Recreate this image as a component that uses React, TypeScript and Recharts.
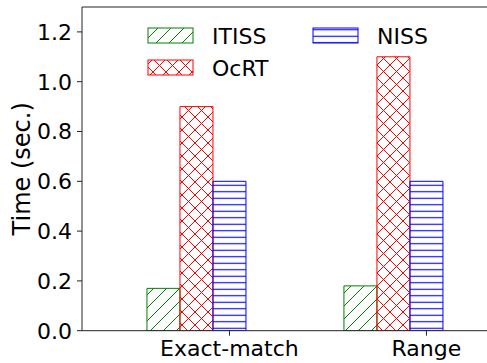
import React from 'react';
import { BarChart, Bar, XAxis, YAxis, ReferenceLine, Label } from 'recharts';

// Query time per method, one value per query type
const categories = ['Exact-match', 'Range'];
const itissTimes = [0.17, 0.18];
const ocrtTimes = [0.9, 1.1];
const nissTimes = [0.6, 0.6];
const yTicks = [0, 0.2, 0.4, 0.6, 0.8, 1.0, 1.2];

const series = [
  { key: 'ITISS', values: itissTimes, color: 'green', pattern: 'hatch-diag' },
  { key: 'OcRT', values: ocrtTimes, color: 'red', pattern: 'hatch-cross' },
  { key: 'NISS', values: nissTimes, color: 'blue', pattern: 'hatch-horiz' },
];

// x axis: one unit per query type; a bar is BAR_W units wide
const BAR_W = 0.1675;
const X_DOMAIN: [number, number] = [-0.581, 1.541];
const xTicks = categories.map((_, i) => i + BAR_W);

const data = categories.map((name, i) => {
  const row: Record<string, number | string> = { x: i, name };
  series.forEach((s) => {
    row[s.key] = s.values[i];
  });
  return row;
});

const FONT = '"DejaVu Sans", sans-serif';
const AXIS = '#222';

const HatchDefs = ({ prefix = '' }: { prefix?: string }) => (
  <defs>
    <pattern id={`${prefix}hatch-diag`} patternUnits="userSpaceOnUse" width={13} height={13}>
      <path d="M-1,1 l2,-2 M0,13 l13,-13 M12,14 l2,-2" stroke="green" strokeWidth={1} />
    </pattern>
    <pattern id={`${prefix}hatch-cross`} patternUnits="userSpaceOnUse" width={13} height={13}>
      <path
        d="M-1,1 l2,-2 M0,13 l13,-13 M12,14 l2,-2 M-1,12 l2,2 M0,0 l13,13 M12,-1 l2,2"
        stroke="red"
        strokeWidth={1}
      />
    </pattern>
    <pattern id={`${prefix}hatch-horiz`} patternUnits="userSpaceOnUse" width={13} height={6.5}>
      <path d="M0,3.25 h13" stroke="blue" strokeWidth={1.1} />
    </pattern>
  </defs>
);

const LegendBox = () => (
  <svg width={320} height={72} style={{ position: 'absolute', left: 140, top: 20 }}>
    <HatchDefs prefix="lg-" />
    {series.map((s, i) => {
      const col = Math.floor(i / 2);
      const row = i % 2;
      const sx = 8 + col * 165;
      const sy = 8 + row * 32;
      return (
        <g key={s.key}>
          <rect x={sx} y={sy} width={45} height={15} fill={`url(#lg-${s.pattern})`} stroke={s.color} strokeWidth={1} />
          <text x={sx + 64} y={sy + 16} fontSize={22} fontFamily={FONT} fill="#000">
            {s.key}
          </text>
        </g>
      );
    })}
  </svg>
);

const YTitle = (props: any) => {
  const { x, y, height } = props.viewBox;
  const cx = x + 30;
  const cy = y + height / 2;
  return (
    <text
      x={cx}
      y={cy}
      transform={`rotate(-90 ${cx} ${cy})`}
      textAnchor="middle"
      fontSize={24}
      fontFamily={FONT}
      fill="#000"
    >
      Time (sec.)
    </text>
  );
};

export default function App() {
  return (
    <div
      style={{
        position: 'absolute',
        left: 0,
        top: 0,
        width: 487,
        height: 363,
        overflow: 'hidden',
        background: '#fff',
      }}
    >
      <BarChart
        width={500}
        height={363}
        data={data}
        margin={{ top: 7, right: 0, bottom: 0, left: 0 }}
        barGap={0}
        barSize={33}
      >
        <HatchDefs />
        <XAxis
          type="number"
          dataKey="x"
          domain={X_DOMAIN}
          allowDataOverflow
          ticks={xTicks}
          tickCount={2}
          interval={0}
          tickFormatter={(v: number) => categories[Math.round(v - BAR_W)]}
          height={32.3}
          tickSize={5}
          tickMargin={4.5}
          axisLine={{ stroke: AXIS, strokeWidth: 1 }}
          tickLine={{ stroke: AXIS, strokeWidth: 1 }}
          tick={{ fill: '#000', fontSize: 22, fontFamily: FONT }}
        />
        <YAxis
          type="number"
          domain={[0, 1.3]}
          allowDataOverflow
          ticks={yTicks}
          interval={0}
          tickFormatter={(v: number) => v.toFixed(1)}
          width={82}
          tickSize={5}
          tickMargin={5}
          axisLine={{ stroke: AXIS, strokeWidth: 1 }}
          tickLine={{ stroke: AXIS, strokeWidth: 1 }}
          tick={{ fill: '#000', fontSize: 22, fontFamily: FONT }}
        >
          <Label content={YTitle} />
        </YAxis>
        <ReferenceLine y={1.3} stroke={AXIS} strokeWidth={1} />
        {series.map((s) => (
          <Bar
            key={s.key}
            dataKey={s.key}
            fill={`url(#${s.pattern})`}
            stroke={s.color}
            strokeWidth={1}
            isAnimationActive={false}
          />
        ))}
      </BarChart>
      <LegendBox />
    </div>
  );
}
